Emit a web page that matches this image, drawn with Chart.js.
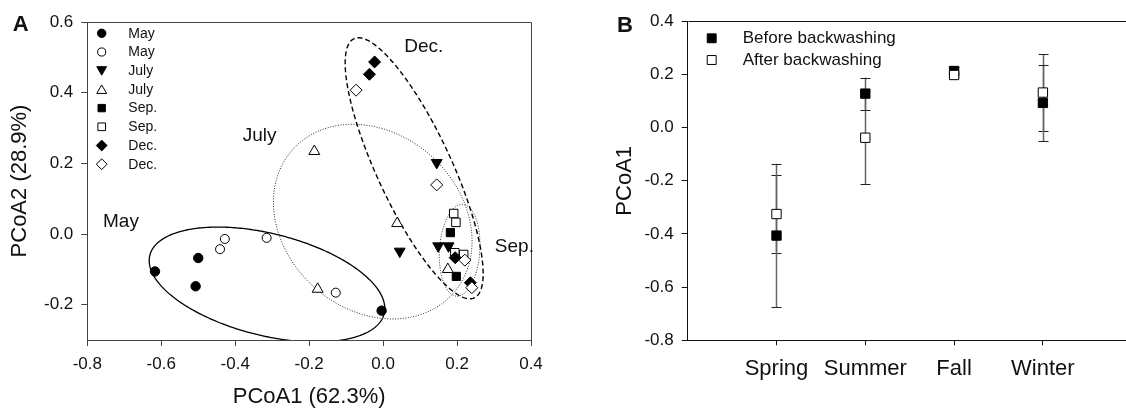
<!DOCTYPE html>
<html><head><meta charset="utf-8">
<script src="https://cdn.jsdelivr.net/npm/chart.js@4.4.1/dist/chart.umd.min.js"></script>
<style>
html,body{margin:0;padding:0;background:#fff;overflow:hidden;width:1126px;height:410px;}
canvas{position:absolute;top:0;}
#cA{left:0;} #cB{left:560px;}
</style></head><body>
<canvas id="cA" width="560" height="410" style="width:560px;height:410px"></canvas>
<canvas id="cB" width="566" height="410" style="width:566px;height:410px"></canvas>
<script>
// ---------- Panel A data (PCoA1, PCoA2) ----------
const mayFilled  = [[-0.617,-0.106],[-0.500,-0.068],[-0.507,-0.148],[-0.004,-0.217]];
const mayOpen    = [[-0.441,-0.043],[-0.428,-0.014],[-0.315,-0.011],[-0.128,-0.166]];
const julyFilled = [[0.145,0.202],[0.045,-0.049],[0.149,-0.034],[0.177,-0.034]];
const julyOpen   = [[-0.186,0.234],[-0.177,-0.156],[0.038,0.030],[0.175,-0.100]];
const sepFilled  = [[0.182,0.004],[0.198,-0.120]];
const sepOpen    = [[0.191,0.058],[0.197,0.033],[0.194,-0.053],[0.218,-0.058]];
const decFilled  = [[-0.023,0.487],[-0.037,0.452],[0.195,-0.067],[0.236,-0.138]];
const decOpen    = [[-0.073,0.407],[0.145,0.139],[0.221,-0.074],[0.240,-0.152]];
const legendLabelsA = ['May','May','July','July','Sep.','Sep.','Dec.','Dec.'];
const xTicksA = [-0.8,-0.6,-0.4,-0.2,0.0,0.2,0.4];
const yTicksA = [-0.2,0.0,0.2,0.4,0.6];
// group ellipses: centre, half-extents and correlation (data units)
const ellipseNames = ['May','July','Dec.','Sep.'];
const ellipseCx  = [-0.314,-0.028,0.084,0.207];
const ellipseCy  = [-0.143,0.035,0.186,-0.046];
const ellipseRx  = [0.3186,0.2686,0.1866,0.055];
const ellipseRy  = [0.1626,0.2754,0.3694,0.130];
const ellipseRho = [-0.417,-0.20,-0.806,0.12];
const groupLabelX = [-0.709,-0.334,0.110,0.355];
const groupLabelY = [0.036,0.277,0.530,-0.035];

// ---------- Panel B data ----------
const seasons = ['Spring','Summer','Fall','Winter'];
const beforeMean = [-0.406,0.128,0.213,0.093];
const beforeErr  = [0.270,0.060,0.016,0.144];
const afterMean  = [-0.325,-0.038,0.198,0.132];
const afterErr   = [0.145,0.175,0.006,0.144];
const yTicksB = [-0.8,-0.6,-0.4,-0.2,0.0,0.2,0.4];

const FONT = "'Liberation Sans', Arial, Helvetica, sans-serif";
Chart.defaults.font.family = FONT;
Chart.defaults.color = '#111';

function toPts(arr){ return arr.map(p => ({x:p[0], y:p[1]})); }
function fmt(v){ const s = Number(v).toFixed(1); return s === '-0.0' ? '0.0' : s; }

function marker(ctx, style, rot, r, fill, x, y){
  ctx.save();
  ctx.fillStyle = fill ? '#000' : '#fff';
  ctx.strokeStyle = '#000';
  ctx.lineWidth = 1;
  Chart.helpers.drawPoint(ctx, {pointStyle:style, rotation:rot, radius:r, borderWidth:1}, x, y);
  ctx.restore();
}

// series styles for A
const seriesA = [
  {data:mayFilled,  style:'circle',   rot:0,   r:4.7, fill:true},
  {data:mayOpen,    style:'circle',   rot:0,   r:4.5, fill:false},
  {data:julyFilled, style:'triangle', rot:180, r:6.3, fill:true},
  {data:julyOpen,   style:'triangle', rot:0,   r:6.3, fill:false},
  {data:sepFilled,  style:'rect',     rot:0,   r:5.8, fill:true},
  {data:sepOpen,    style:'rect',     rot:0,   r:6.0, fill:false},
  {data:decFilled,  style:'rectRot',  rot:0,   r:6.0, fill:true},
  {data:decOpen,    style:'rectRot',  rot:0,   r:6.0, fill:false}
];

const ellipseStyles = [
  {dash:[], color:'#000', width:1.3},
  {dash:[1,1.6], color:'#222', width:1},
  {dash:[5,3], color:'#000', width:1.4},
  {dash:[1,1.6], color:'#222', width:1}
];

const panelAPlugin = {
  id:'panelA',
  beforeDatasetsDraw(chart){
    const {ctx, chartArea:a, scales:{x, y}} = chart;
    ctx.save();
    ctx.strokeStyle = '#444'; ctx.lineWidth = 1;
    ctx.beginPath();
    ctx.moveTo(Math.round(a.left)+0.5, Math.round(a.top)+0.5);
    ctx.lineTo(Math.round(a.right)+0.5, Math.round(a.top)+0.5);
    ctx.lineTo(Math.round(a.right)+0.5, Math.round(a.bottom)+0.5);
    ctx.stroke();
    ctx.beginPath(); ctx.rect(a.left, a.top, a.right-a.left, a.bottom-a.top); ctx.clip();
    for (let i=0;i<ellipseCx.length;i++){
      const st = ellipseStyles[i];
      ctx.setLineDash(st.dash); ctx.strokeStyle = st.color; ctx.lineWidth = st.width;
      ctx.beginPath();
      const k = Math.sqrt(1-ellipseRho[i]*ellipseRho[i]);
      for (let j=0;j<=360;j++){
        const t = j/360*2*Math.PI;
        const dx = ellipseRx[i]*Math.cos(t);
        const dy = ellipseRy[i]*(ellipseRho[i]*Math.cos(t) + k*Math.sin(t));
        const px = x.getPixelForValue(ellipseCx[i]+dx), py = y.getPixelForValue(ellipseCy[i]+dy);
        if (j===0) ctx.moveTo(px,py); else ctx.lineTo(px,py);
      }
      ctx.closePath(); ctx.stroke();
    }
    ctx.restore();
  },
  afterDraw(chart){
    const {ctx, chartArea:a, scales:{x, y}} = chart;
    ctx.save();
    ctx.fillStyle = '#111';
    ctx.textAlign = 'center'; ctx.textBaseline = 'middle';
    ctx.font = '19px ' + FONT;
    for (let i=0;i<ellipseNames.length;i++){
      ctx.fillText(ellipseNames[i], x.getPixelForValue(groupLabelX[i]), y.getPixelForValue(groupLabelY[i]));
    }
    // legend
    ctx.textAlign = 'left';
    ctx.font = '14px ' + FONT;
    for (let i=0;i<seriesA.length;i++){
      const s = seriesA[i];
      const cy = a.top + 11.3 + i*18.7;
      marker(ctx, s.style, s.rot, s.r*0.9, s.fill, a.left + 14.4, cy + (s.style==='triangle' ? (s.rot ? -1.2 : 1.2) : 0));
      ctx.fillStyle = '#111';
      ctx.fillText(legendLabelsA[i], a.left + 41, cy + 0.5);
    }
    ctx.font = 'bold 22px ' + FONT;
    ctx.textAlign = 'center';
    ctx.fillText('A', 20.7, 25);
    ctx.restore();
  }
};

new Chart(document.getElementById('cA'), {
  type:'scatter',
  data:{datasets: seriesA.map((s,i) => ({
    label: legendLabelsA[i],
    data: toPts(s.data),
    pointStyle: s.style, pointRotation: s.rot, pointRadius: s.r, pointHoverRadius: s.r,
    backgroundColor: s.fill ? '#000' : '#fff', borderColor:'#000', borderWidth:1,
    order: seriesA.length - 1 - i
  }))},
  options:{
    responsive:false, animation:false, devicePixelRatio:1,
    layout:{autoPadding:false, padding:{top:22, right:29, left:0, bottom:0}},
    plugins:{legend:{display:false}, tooltip:{enabled:false}},
    scales:{
      x:{type:'linear', min:-0.8, max:0.4,
        afterBuildTicks: s => { s.ticks = xTicksA.map(v => ({value:v})); },
        afterFit: s => { s.height = 70; },
        grid:{drawOnChartArea:false, drawTicks:true, tickLength:6, color:'#444'},
        border:{color:'#444', width:1},
        ticks:{padding:8, autoSkip:false, maxRotation:0, font:{size:17}, color:'#111', callback:v => fmt(v)},
        title:{display:true, text:'PCoA1 (62.3%)', font:{size:22}, color:'#111', padding:{top:0, bottom:0}}
      },
      y:{type:'linear', min:-0.3, max:0.6,
        afterBuildTicks: s => { s.ticks = yTicksA.map(v => ({value:v})); },
        afterFit: s => { s.width = 87.3; },
        grid:{drawOnChartArea:false, drawTicks:true, tickLength:6, color:'#444'},
        border:{color:'#444', width:1},
        ticks:{padding:8, autoSkip:false, font:{size:17}, color:'#111', callback:v => fmt(v)},
        title:{display:true, text:'PCoA2 (28.9%)', font:{size:22}, color:'#111', padding:{top:7, bottom:0}}
      }
    }
  },
  plugins:[panelAPlugin]
});

// ---------- Panel B ----------
const panelBPlugin = {
  id:'panelB',
  beforeDatasetsDraw(chart){
    const {ctx, chartArea:a, scales:{x, y}} = chart;
    ctx.save();
    ctx.strokeStyle = '#111'; ctx.lineWidth = 1;
    ctx.beginPath();
    ctx.moveTo(Math.round(a.left)+0.5, Math.round(a.top)+0.5);
    ctx.lineTo(a.right+2, Math.round(a.top)+0.5);
    ctx.stroke();
    chart.data.datasets.forEach(ds => {
      ds.data.forEach((p, i) => {
        const e = ds.errors[i];
        const px = Math.round(x.getPixelForValue(p.x)) + 0.5;
        const y1 = y.getPixelForValue(p.y + e), y2 = y.getPixelForValue(p.y - e);
        ctx.strokeStyle = '#666'; ctx.lineWidth = 1.5;
        ctx.beginPath(); ctx.moveTo(px, y1); ctx.lineTo(px, y2); ctx.stroke();
        ctx.strokeStyle = '#222'; ctx.lineWidth = 1;
        ctx.beginPath();
        ctx.moveTo(px-5, Math.round(y1)+0.5); ctx.lineTo(px+5, Math.round(y1)+0.5);
        ctx.moveTo(px-5, Math.round(y2)+0.5); ctx.lineTo(px+5, Math.round(y2)+0.5);
        ctx.stroke();
      });
    });
    ctx.restore();
  },
  afterDraw(chart){
    const {ctx, chartArea:a} = chart;
    ctx.save();
    const items = [['Before backwashing', true], ['After backwashing', false]];
    ctx.font = '17px ' + FONT; ctx.textAlign = 'left'; ctx.textBaseline = 'middle';
    items.forEach((it, i) => {
      const cy = a.top + 17 + i*21.7;
      marker(ctx, 'rect', 0, 6.3, it[1], a.left + 24, cy);
      ctx.fillStyle = '#111';
      ctx.fillText(it[0], a.left + 55, cy + 0.5);
    });
    ctx.font = 'bold 22px ' + FONT; ctx.textAlign = 'center';
    ctx.fillText('B', 65, 26);
    ctx.restore();
  }
};

new Chart(document.getElementById('cB'), {
  type:'scatter',
  data:{datasets:[
    {label:'After backwashing', data: seasons.map((s,i) => ({x:i+1, y:afterMean[i]})), errors: afterErr,
     pointStyle:'rect', pointRadius:6.6, pointHoverRadius:6.6, backgroundColor:'#fff', borderColor:'#000', borderWidth:1, order:0},
    {label:'Before backwashing', data: seasons.map((s,i) => ({x:i+1, y:beforeMean[i]})), errors: beforeErr,
     pointStyle:'rect', pointRadius:6.6, pointHoverRadius:6.6, backgroundColor:'#000', borderColor:'#000', borderWidth:1, order:1}
  ]},
  options:{
    responsive:false, animation:false, devicePixelRatio:1,
    layout:{autoPadding:false, padding:{top:21.3, right:0, left:0, bottom:0}},
    plugins:{legend:{display:false}, tooltip:{enabled:false}},
    scales:{
      x:{type:'linear', min:0, max:4.936,
        afterBuildTicks: s => { s.ticks = seasons.map((c,i) => ({value:i+1})); },
        afterFit: s => { s.height = 69.7; },
        grid:{drawOnChartArea:false, drawTicks:true, tickLength:5, color:'#111'},
        border:{color:'#111', width:1},
        ticks:{padding:10, autoSkip:false, maxRotation:0, font:{size:22}, color:'#111', callback:v => seasons[Math.round(v)-1]}
      },
      y:{type:'linear', min:-0.8, max:0.4,
        afterBuildTicks: s => { s.ticks = yTicksB.map(v => ({value:v})); },
        afterFit: s => { s.width = 127.7; },
        grid:{drawOnChartArea:false, drawTicks:true, tickLength:6, color:'#111'},
        border:{color:'#111', width:1},
        ticks:{padding:8, autoSkip:false, font:{size:17}, color:'#111', callback:v => fmt(v)},
        title:{display:true, text:'PCoA1', font:{size:22}, color:'#111', padding:{top:52, bottom:0}}
      }
    }
  },
  plugins:[panelBPlugin]
});
</script>
</body></html>
